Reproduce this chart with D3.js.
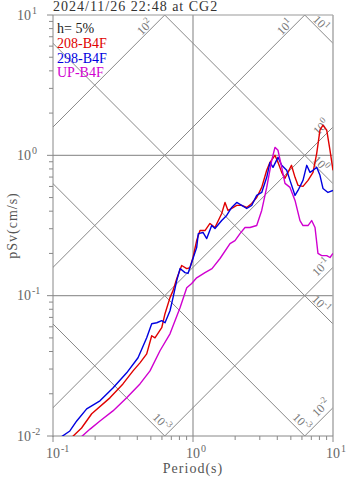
<!DOCTYPE html>
<html><head><meta charset="utf-8">
<script src="https://cdn.jsdelivr.net/npm/d3@7"></script>
<style>
html,body{margin:0;padding:0;background:#fff;}
svg{display:block;font-family:"Liberation Serif","Times New Roman",serif;}
</style></head>
<body>
<svg id="chart" width="347" height="478"></svg>
<script>
// ---- data ----
const title = "2024/11/26 22:48 at CG2";
const damping = "h= 5%";
const seriesNames = ["208-B4F", "298-B4F", "UP-B4F"];
const seriesColors = ["#e00000", "#0000e0", "#d000d0"];

const redT = [0.138,0.160,0.189,0.255,0.316,0.373,0.418,0.467,0.507,0.535,0.598,0.631,0.685,0.720,0.765,0.830,0.902,0.952,1.0,1.062,1.122,1.218,1.322,1.436,1.603,1.693,1.778,1.890,2.052,2.228,2.419,2.626,2.851,3.096,3.361,3.548,3.85,4.047,4.301,4.54,4.77,5.05,5.355,5.623,6.105,6.63,7.20,7.65,8.07,8.48,9.02,9.52,10.0];
const redSv = [0.0099,0.0114,0.0144,0.0187,0.0235,0.0291,0.0332,0.0385,0.0518,0.0501,0.0591,0.0744,0.0968,0.1086,0.132,0.164,0.156,0.158,0.187,0.247,0.291,0.291,0.327,0.306,0.385,0.462,0.405,0.418,0.440,0.440,0.425,0.454,0.501,0.591,0.782,0.891,1.0,0.891,0.756,0.686,0.756,0.849,0.697,0.611,0.601,0.663,0.756,1.033,1.51,1.64,1.51,1.085,0.782];

const blueT = [0.1153,0.132,0.1477,0.174,0.2165,0.268,0.336,0.405,0.467,0.507,0.551,0.598,0.631,0.685,0.720,0.765,0.808,0.877,0.921,1.005,1.062,1.091,1.179,1.253,1.360,1.436,1.603,1.740,1.890,2.052,2.228,2.419,2.626,2.851,3.096,3.361,3.548,3.728,4.047,4.301,4.670,4.93,5.355,5.623,6.105,6.49,6.85,7.20,7.65,8.07,8.48,9.21,10.0];
const blueSv = [0.0099,0.01086,0.0128,0.0156,0.0178,0.0220,0.0282,0.0361,0.0501,0.0631,0.0641,0.0663,0.0641,0.0781,0.0968,0.128,0.156,0.146,0.144,0.187,0.220,0.277,0.282,0.255,0.316,0.301,0.343,0.373,0.425,0.462,0.440,0.418,0.440,0.518,0.544,0.697,0.891,0.821,0.968,0.849,0.782,0.663,0.518,0.562,0.663,0.849,0.756,0.782,0.821,0.720,0.581,0.544,0.562];

const upT = [0.160,0.184,0.2165,0.268,0.336,0.418,0.493,0.581,0.685,0.808,0.902,0.979,1.062,1.218,1.367,1.56,1.838,1.995,2.166,2.352,2.553,2.851,3.096,3.361,3.65,3.85,4.047,4.301,4.54,4.93,5.355,5.81,6.105,6.63,7.04,7.44,7.81,8.30,9.02,9.52,10.0];
const upSv = [0.0099,0.0112,0.0128,0.0151,0.0187,0.0235,0.0291,0.0405,0.0535,0.0821,0.114,0.122,0.134,0.146,0.156,0.184,0.235,0.247,0.277,0.306,0.306,0.316,0.405,0.591,0.921,1.14,1.085,0.821,0.631,0.591,0.477,0.343,0.316,0.316,0.343,0.306,0.2,0.193,0.193,0.187,0.2];

const xTickExps = [-1, 0, 1];
const yTickExps = [-2, -1, 0, 1];
const accelExps = [-2, -1, 0, 1, 2];            // gal lines (slope +1)
const accelLabels = ["-2", "-1", "0", "1", "2"];
const dispExps = [-3, -2, -1, 0, 1];            // cm lines (slope -1)
const dispLabels = ["-3", "-3", "-1", "0", "1"];

// ---- layout ----
const L = 53, R = 333, T = 15, B = 436;
const svg = d3.select("#chart");
const x = d3.scaleLog().domain([0.1, 10]).range([L, R]);
const y = d3.scaleLog().domain([0.01, 10]).range([B, T]);

svg.append("defs").append("clipPath").attr("id", "clip")
  .append("rect").attr("x", L).attr("y", T).attr("width", R - L).attr("height", B - T);

const gridG = svg.append("g").attr("clip-path", "url(#clip)");
gridG.append("line").attr("x1", x(1)).attr("x2", x(1)).attr("y1", T).attr("y2", B)
  .attr("stroke", "#aaa").attr("stroke-width", 1.5);
[1, 0.1].forEach(v => gridG.append("line").attr("x1", L).attr("x2", R).attr("y1", y(v)).attr("y2", y(v))
  .attr("stroke", "#999").attr("stroke-width", 1.3));

const line = d3.line().x(d => x(d[0])).y(d => y(d[1]));
const twoPi = 2 * Math.PI;
accelExps.forEach(e => {
  const A = Math.pow(10, e);
  const pts = [0.05, 20].map(t => [t, A * t / twoPi]);
  gridG.append("path").attr("d", line(pts)).attr("fill", "none").attr("stroke", "#888").attr("stroke-width", 1);
});
dispExps.forEach(e => {
  const D = Math.pow(10, e);
  const pts = [0.05, 20].map(t => [t, twoPi * D / t]);
  gridG.append("path").attr("d", line(pts)).attr("fill", "none").attr("stroke", "#888").attr("stroke-width", 1);
});

function diagLabel(cx, cy, rot, exp) {
  const g = svg.append("g").attr("transform", `translate(${cx},${cy}) rotate(${rot})`);
  const t = g.append("text").attr("text-anchor", "middle").attr("y", 4)
    .attr("fill", "#777").attr("font-size", 12);
  t.append("tspan").text("10");
  t.append("tspan").attr("font-size", 9).attr("dy", -5).text(exp);
}
accelExps.forEach((e, i) => {
  const A = Math.pow(10, e);
  const svEnd = A * 10 / twoPi;
  let px, py;
  if (svEnd <= 10) { px = x(10) - 12; py = y(svEnd); }
  else { px = x(10 * twoPi / A) - 20; py = y(10) + 12; }
  diagLabel(px, py, -45, accelLabels[i]);
});
dispExps.forEach((e, i) => {
  const D = Math.pow(10, e);
  const svEnd = twoPi * D / 10;
  let px, py;
  if (svEnd >= 0.01) { px = x(10) - 12; py = y(svEnd) - 20; }
  else { px = x(twoPi * D / 0.01) - 3; py = y(0.01) - 14; }
  diagLabel(px, py, 45, dispLabels[i]);
});

// frame
svg.append("line").attr("x1", L).attr("x2", R).attr("y1", T).attr("y2", T).attr("stroke", "#999");
svg.append("line").attr("x1", R).attr("x2", R).attr("y1", T).attr("y2", B).attr("stroke", "#aaa").attr("stroke-width", 1.5);
svg.append("line").attr("x1", L).attr("x2", L).attr("y1", T).attr("y2", B + 1).attr("stroke", "#888");
svg.append("line").attr("x1", L).attr("x2", R).attr("y1", B).attr("y2", B).attr("stroke", "#888");

// ticks
const xMinor = [], yMinor = [];
for (let d = -1; d < 1; d++) for (let k = 2; k <= 9; k++) xMinor.push(k * Math.pow(10, d));
for (let d = -2; d < 1; d++) for (let k = 2; k <= 9; k++) yMinor.push(k * Math.pow(10, d));
xMinor.forEach(v => svg.append("line").attr("x1", x(v)).attr("x2", x(v)).attr("y1", B).attr("y2", B + 4).attr("stroke", "#888"));
xTickExps.forEach(e => svg.append("line").attr("x1", x(Math.pow(10, e))).attr("x2", x(Math.pow(10, e))).attr("y1", B).attr("y2", B + 6).attr("stroke", "#888"));
yMinor.forEach(v => svg.append("line").attr("x1", L - 4).attr("x2", L).attr("y1", y(v)).attr("y2", y(v)).attr("stroke", "#888"));
yTickExps.forEach(e => svg.append("line").attr("x1", L - 6).attr("x2", L).attr("y1", y(Math.pow(10, e))).attr("y2", y(Math.pow(10, e))).attr("stroke", "#888"));

// tick labels
xTickExps.forEach(e => {
  const cx = x(Math.pow(10, e));
  const t = svg.append("text").attr("x", cx - 7).attr("y", 458).attr("fill", "#666").attr("font-size", 14);
  t.append("tspan").text("10");
  t.append("tspan").attr("font-size", 10).attr("dy", -6).attr("dx", 1).text(e);
});
yTickExps.forEach(e => {
  const cy = y(Math.pow(10, e));
  const t = svg.append("text").attr("x", 17).attr("y", cy + 4.5).attr("fill", "#666").attr("font-size", 14);
  t.append("tspan").text("10");
  t.append("tspan").attr("font-size", 10).attr("dy", -6).attr("dx", 1).text(e);
});

// series
const seriesData = [
  d3.zip(redT, redSv),
  d3.zip(blueT, blueSv),
  d3.zip(upT, upSv)
];
const dataG = svg.append("g").attr("clip-path", "url(#clip)");
seriesData.forEach((s, i) => {
  dataG.append("path").attr("d", line(s)).attr("fill", "none")
    .attr("stroke", seriesColors[i]).attr("stroke-width", 1.4).attr("stroke-linejoin", "round");
});

// legend
svg.append("text").attr("x", 57).attr("y", 33).attr("font-size", 14).attr("fill", "#222").text(damping);
seriesNames.forEach((n, i) => {
  svg.append("text").attr("x", 57).attr("y", 48 + i * 14.7).attr("font-size", 14)
    .attr("fill", seriesColors[i]).text(n);
});

// title & axis titles
svg.append("text").attr("x", 53).attr("y", 11).attr("font-size", 14).attr("letter-spacing", 1)
  .attr("fill", "#333").text(title);
svg.append("text").attr("x", x(1)).attr("y", 473).attr("text-anchor", "middle").attr("font-size", 14)
  .attr("letter-spacing", 1).attr("fill", "#555").text("Period(s)");
svg.append("text").attr("transform", `translate(17,${(T + B) / 2}) rotate(-90)`).attr("text-anchor", "middle")
  .attr("font-size", 14).attr("letter-spacing", 1).attr("fill", "#555").text("pSv(cm/s)");
</script>
</body></html>
